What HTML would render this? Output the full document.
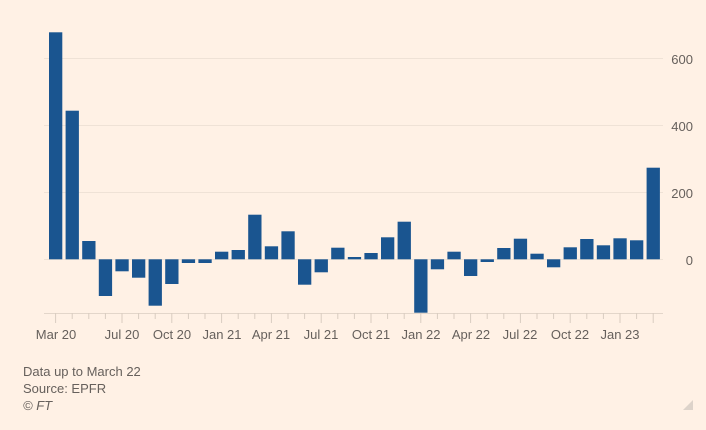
<!DOCTYPE html>
<html><head><meta charset="utf-8"><style>
html,body{margin:0;padding:0;background:#fff1e5;}
svg{display:block;font-family:"Liberation Sans",sans-serif;}
</style></head><body>
<svg width="706" height="430" viewBox="0 0 706 430">
<rect width="706" height="430" fill="#fff1e5"/>
<g stroke="#efe2d6" stroke-width="1">
<line x1="44" y1="58.5" x2="663" y2="58.5"/>
<line x1="44" y1="125.5" x2="663" y2="125.5"/>
<line x1="44" y1="192.5" x2="663" y2="192.5"/>
<line x1="44" y1="259.5" x2="663" y2="259.5"/>
</g>
<g fill="#66605c" font-size="13" text-anchor="end">
<text x="693" y="64">600</text>
<text x="693" y="131">400</text>
<text x="693" y="198">200</text>
<text x="693" y="265">0</text>
</g>
<g fill="#1a5590">
<rect x="49.0" y="32.3" width="13.3" height="227"/>
<rect x="65.6" y="110.7" width="13.3" height="148.6"/>
<rect x="82.2" y="241" width="13.3" height="18.3"/>
<rect x="98.8" y="259.3" width="13.3" height="36.7"/>
<rect x="115.4" y="259.3" width="13.3" height="12"/>
<rect x="132.0" y="259.3" width="13.3" height="18.4"/>
<rect x="148.6" y="259.3" width="13.3" height="46.4"/>
<rect x="165.2" y="259.3" width="13.3" height="24.7"/>
<rect x="181.8" y="259.3" width="13.3" height="3.7"/>
<rect x="198.4" y="259.3" width="13.3" height="3.7"/>
<rect x="215.0" y="251.7" width="13.3" height="7.6"/>
<rect x="231.6" y="250" width="13.3" height="9.3"/>
<rect x="248.2" y="214.7" width="13.3" height="44.6"/>
<rect x="264.8" y="246.3" width="13.3" height="13"/>
<rect x="281.4" y="231.3" width="13.3" height="28"/>
<rect x="298.0" y="259.3" width="13.3" height="25.4"/>
<rect x="314.6" y="259.3" width="13.3" height="13"/>
<rect x="331.2" y="247.7" width="13.3" height="11.6"/>
<rect x="347.8" y="257" width="13.3" height="2.3"/>
<rect x="364.4" y="253" width="13.3" height="6.3"/>
<rect x="381.0" y="237.3" width="13.3" height="22"/>
<rect x="397.6" y="221.7" width="13.3" height="37.6"/>
<rect x="414.2" y="259.3" width="13.3" height="53.4"/>
<rect x="430.8" y="259.3" width="13.3" height="10"/>
<rect x="447.4" y="251.7" width="13.3" height="7.6"/>
<rect x="464.0" y="259.3" width="13.3" height="16.7"/>
<rect x="480.6" y="259.3" width="13.3" height="2.7"/>
<rect x="497.2" y="248" width="13.3" height="11.3"/>
<rect x="513.8" y="238.7" width="13.3" height="20.6"/>
<rect x="530.4" y="253.7" width="13.3" height="5.6"/>
<rect x="547.0" y="259.3" width="13.3" height="8"/>
<rect x="563.6" y="247.3" width="13.3" height="12"/>
<rect x="580.2" y="239" width="13.3" height="20.3"/>
<rect x="596.8" y="245.3" width="13.3" height="14"/>
<rect x="613.4" y="238.3" width="13.3" height="21"/>
<rect x="630.0" y="240.3" width="13.3" height="19"/>
<rect x="646.6" y="167.7" width="13.3" height="91.6"/>
</g>
<line x1="44" y1="313.5" x2="663" y2="313.5" stroke="#e3d6ca" stroke-width="1"/>
<g stroke="#d9ccc0" stroke-width="1">
<line x1="55.6" y1="313" x2="55.6" y2="323"/>
<line x1="72.2" y1="313" x2="72.2" y2="319"/>
<line x1="88.8" y1="313" x2="88.8" y2="319"/>
<line x1="105.4" y1="313" x2="105.4" y2="319"/>
<line x1="122.0" y1="313" x2="122.0" y2="323"/>
<line x1="138.6" y1="313" x2="138.6" y2="319"/>
<line x1="155.2" y1="313" x2="155.2" y2="319"/>
<line x1="171.8" y1="313" x2="171.8" y2="323"/>
<line x1="188.4" y1="313" x2="188.4" y2="319"/>
<line x1="205.0" y1="313" x2="205.0" y2="319"/>
<line x1="221.6" y1="313" x2="221.6" y2="323"/>
<line x1="238.2" y1="313" x2="238.2" y2="319"/>
<line x1="254.8" y1="313" x2="254.8" y2="319"/>
<line x1="271.4" y1="313" x2="271.4" y2="323"/>
<line x1="288.0" y1="313" x2="288.0" y2="319"/>
<line x1="304.6" y1="313" x2="304.6" y2="319"/>
<line x1="321.2" y1="313" x2="321.2" y2="323"/>
<line x1="337.8" y1="313" x2="337.8" y2="319"/>
<line x1="354.4" y1="313" x2="354.4" y2="319"/>
<line x1="371.0" y1="313" x2="371.0" y2="323"/>
<line x1="387.6" y1="313" x2="387.6" y2="319"/>
<line x1="404.2" y1="313" x2="404.2" y2="319"/>
<line x1="420.8" y1="313" x2="420.8" y2="323"/>
<line x1="437.4" y1="313" x2="437.4" y2="319"/>
<line x1="454.0" y1="313" x2="454.0" y2="319"/>
<line x1="470.6" y1="313" x2="470.6" y2="323"/>
<line x1="487.2" y1="313" x2="487.2" y2="319"/>
<line x1="503.8" y1="313" x2="503.8" y2="319"/>
<line x1="520.4" y1="313" x2="520.4" y2="323"/>
<line x1="537.0" y1="313" x2="537.0" y2="319"/>
<line x1="553.6" y1="313" x2="553.6" y2="319"/>
<line x1="570.2" y1="313" x2="570.2" y2="323"/>
<line x1="586.8" y1="313" x2="586.8" y2="319"/>
<line x1="603.4" y1="313" x2="603.4" y2="319"/>
<line x1="620.0" y1="313" x2="620.0" y2="323"/>
<line x1="636.6" y1="313" x2="636.6" y2="319"/>
<line x1="653.2" y1="313" x2="653.2" y2="323"/>
</g>
<g fill="#66605c" font-size="13" text-anchor="middle">
<text x="56" y="339">Mar 20</text>
<text x="122" y="339">Jul 20</text>
<text x="172" y="339">Oct 20</text>
<text x="222" y="339">Jan 21</text>
<text x="271" y="339">Apr 21</text>
<text x="321" y="339">Jul 21</text>
<text x="371" y="339">Oct 21</text>
<text x="421" y="339">Jan 22</text>
<text x="471" y="339">Apr 22</text>
<text x="520" y="339">Jul 22</text>
<text x="570" y="339">Oct 22</text>
<text x="620" y="339">Jan 23</text>
</g>
<g fill="#66605c" font-size="13">
<text x="23" y="376">Data up to March 22</text>
<text x="23" y="393">Source: EPFR</text>
<text x="23" y="410" font-style="italic">© FT</text>
</g>
<polygon points="693,400 693,410 683,410" fill="#ddd3ca"/>
</svg>
</body></html>
